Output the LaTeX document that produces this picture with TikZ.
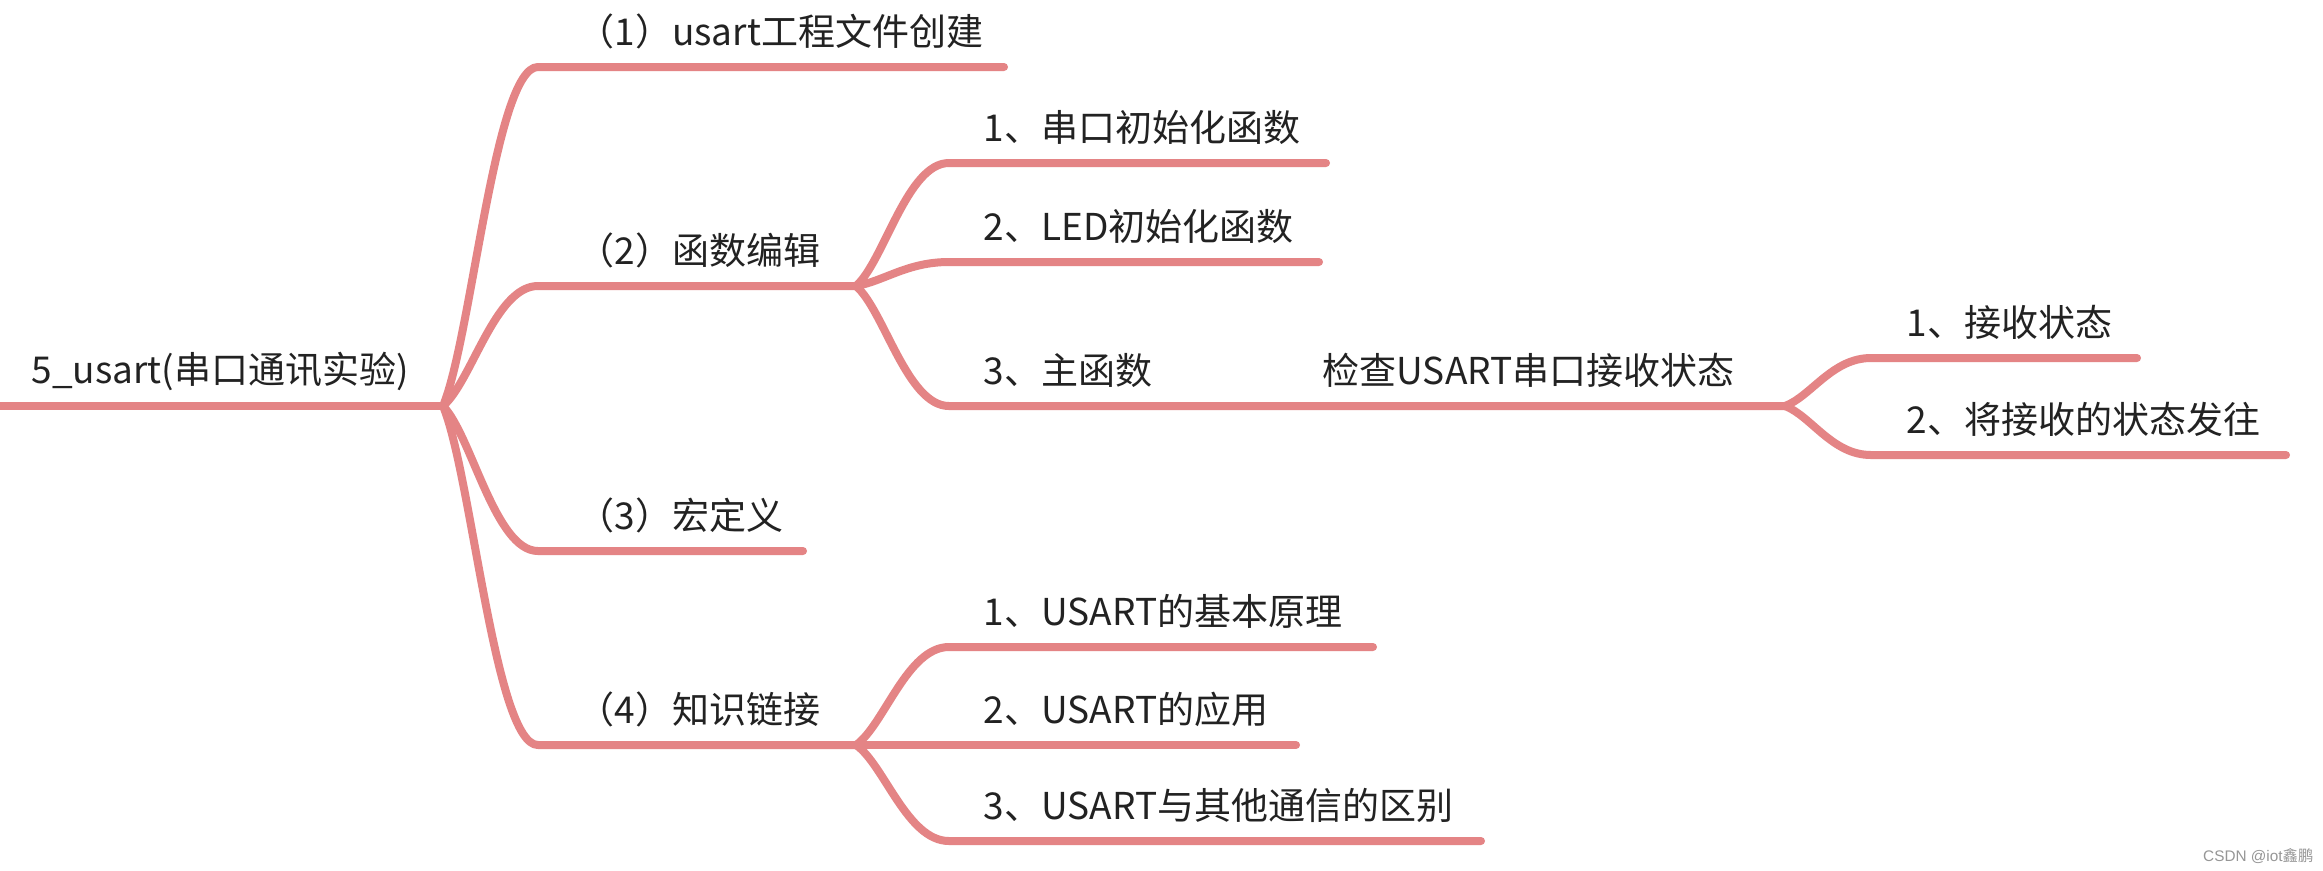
\documentclass[tikz,border=0pt]{standalone}
\usepackage{fontspec}
\setmainfont{Noto Sans CJK SC}
\newfontfamily\wmfont{Liberation Sans}
\definecolor{br}{RGB}{228,132,133}
\definecolor{tx}{RGB}{34,34,34}
\definecolor{wm}{RGB}{150,150,150}
\begin{document}
\begin{tikzpicture}[x=0.3pt,y=-0.3pt,
  branch/.style={draw=br,line width=2.4pt,line cap=round,line join=round},
  lbl/.style={anchor=base west,inner sep=0pt,text=tx,font=\fontsize{11.1}{14}\selectfont},
  wmark/.style={anchor=base east,inner sep=0pt,text=wm,font=\fontsize{4.6}{6}\selectfont}]
\useasboundingbox (0,0) rectangle (2323,870);
\fill[white] (0,0) rectangle (2323,870);
% coordinates
\coordinate (r0) at (0,406);
\coordinate (j0) at (443,406);
\coordinate (s1) at (538,67);   \coordinate (e1) at (1004,67);
\coordinate (s2) at (538,286);  \coordinate (j2) at (856,286);
\coordinate (s3) at (538,551);  \coordinate (e3) at (803,551);
\coordinate (s4) at (538,745);  \coordinate (j4) at (856,745);
\coordinate (s21) at (949,163); \coordinate (e21) at (1326,163);
\coordinate (s22) at (949,262); \coordinate (e22) at (1319,262);
\coordinate (s23) at (949,406); \coordinate (j3) at (1785,406);
\coordinate (s31) at (1871,358); \coordinate (e31) at (2137,358);
\coordinate (s32) at (1871,455); \coordinate (e32) at (2286,455);
\coordinate (s41) at (949,647); \coordinate (e41) at (1373,647);
\coordinate (e42) at (1296,745);
\coordinate (s43) at (949,841); \coordinate (e43) at (1481,841);
% connectors
\draw[branch] (r0) -- (j0);
\draw[branch] (j0) .. controls +(28.5,-67.8) and +(-43,0) .. (s1) -- (e1);
\draw[branch] (j0) .. controls +(28.5,-24) and +(-43,0) .. (s2) -- (j2);
\draw[branch] (j0) .. controls +(28.5,29) and +(-43,0) .. (s3) -- (e3);
\draw[branch] (j0) .. controls +(28.5,67.8) and +(-43,0) .. (s4) -- (j4);
\draw[branch] (j2) .. controls +(28,-24.6) and +(-42,0) .. (s21) -- (e21);
\draw[branch] (j2) .. controls +(28,-4.8) and +(-42,0) .. (s22) -- (e22);
\draw[branch] (j2) .. controls +(28,24) and +(-42,0) .. (s23) -- (j3);
\draw[branch] (j3) .. controls +(26,-9.6) and +(-39,0) .. (s31) -- (e31);
\draw[branch] (j3) .. controls +(26,9.8) and +(-39,0) .. (s32) -- (e32);
\draw[branch] (j4) .. controls +(28,-19.6) and +(-42,0) .. (s41) -- (e41);
\draw[branch] (j4) -- (e42);
\draw[branch] (j4) .. controls +(28,19.2) and +(-42,0) .. (s43) -- (e43);
% labels
\node[lbl] (root) at (31,383) {5\_usart(串口通讯实验)};
\node[lbl] (n1) at (577,45) {（1）usart工程文件创建};
\node[lbl] (n2) at (577,264) {（2）函数编辑};
\node[lbl] (n3) at (577,529) {（3）宏定义};
\node[lbl] (n4) at (577,723) {（4）知识链接};
\node[lbl] (n21) at (983,141) {1、串口初始化函数};
\node[lbl] (n22) at (983,240) {2、LED初始化函数};
\node[lbl] (n23) at (983,384) {3、主函数};
\node[lbl] (n3c) at (1322,384) {检查USART串口接收状态};
\node[lbl] (n31) at (1906,336) {1、接收状态};
\node[lbl] (n32) at (1906,433) {2、将接收的状态发往};
\node[lbl] (n41) at (983,625) {1、USART的基本原理};
\node[lbl] (n42) at (983,723) {2、USART的应用};
\node[lbl] (n43) at (983,819) {3、USART与其他通信的区别};
\node[wmark] (wm) at (2314,861) {{\wmfont CSDN @iot}鑫鹏};
\end{tikzpicture}
\end{document}
